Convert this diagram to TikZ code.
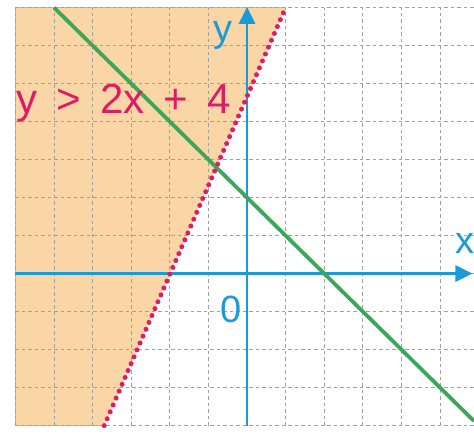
\documentclass[tikz,border=0pt]{standalone}
\usepackage{fontspec}
\setmainfont{Liberation Sans}
\usetikzlibrary{arrows.meta,calc,positioning}
\definecolor{regionfill}{RGB}{250,214,166}
\definecolor{boundpink}{RGB}{222,28,102}
\definecolor{edgepink}{RGB}{232,160,186}
\definecolor{linegreen}{RGB}{60,166,90}
\definecolor{axisblue}{RGB}{27,154,214}
\definecolor{gridgray}{RGB}{160,160,160}
\newcommand{\gap}{\hspace{19pt}}
\tikzset{
  every node/.style = {inner sep=0, outer sep=0},
  gridline/.style = {gridgray, line width=0.8pt, dash pattern=on 3.5pt off 3pt},
  regionedge/.style = {edgepink, line width=1.2pt},
  axis/.style = {axisblue, line width=2.8pt},
  axisarrow/.style = {axis, -{Triangle[length=17pt, width=16pt]}},
  boundary/.style = {boundpink, line width=5pt, line cap=round, dash pattern=on 0pt off 7.5pt},
  graphline/.style = {linegreen, line width=3.8pt},
  axislabel/.style = {text=axisblue, font=\fontsize{38}{38}\selectfont},
  ineqlabel/.style = {text=boundpink, anchor=base west, font=\fontsize{42}{42}\selectfont}
}

\begin{document}
\begin{tikzpicture}[x=38.6pt, y=38pt]
  \useasboundingbox (-6.40,-4.22) rectangle (5.88,7.20);
  % end points of the lines
  \coordinate (bl) at (-3.7,-4);
  \coordinate (bt) at (1.0,7);
  \coordinate (gt) at (-5,7);
  \coordinate (gb) at (5.88,-3.88);
  \coordinate (xs) at (-6,0);
  \coordinate (xe) at (5.84,0);
  \coordinate (ys) at (0,-4);
  \coordinate (ye) at (0,7.02);
  \coordinate (cl) at (-6,-4);
  \coordinate (tl) at (-6,7);
  % shaded half plane
  \fill[regionfill] (cl) -- (tl) -- (bt) -- (bl) -- cycle;
  \draw[regionedge] (bl) -- (cl) -- (tl) -- (bt);
  % grid
  \foreach \x in {-6,...,5} {
    \draw[gridline] (\x,-4) -- (\x,7);
  }
  \foreach \y in {-4,...,7} {
    \draw[gridline] (-6,\y) -- (5.88,\y);
  }
  % axes
  \draw[axisarrow] (xs) -- (xe);
  \draw[axisarrow] (ys) -- (ye);
  \node[axislabel] (xlab) at (5.65,0.80) {x};
  \node[axislabel] (ylab) at (-0.62,6.28) {y};
  \node[axislabel] (olab) at (-0.41,-0.93) {0};
  % lines
  \draw[graphline] (gt) -- (gb);
  \draw[boundary] (bl) -- (bt);
  \node[ineqlabel] (ineq) at (-5.96,4.22) {y\gap>\gap2x\gap+\gap4};
\end{tikzpicture}
\end{document}
